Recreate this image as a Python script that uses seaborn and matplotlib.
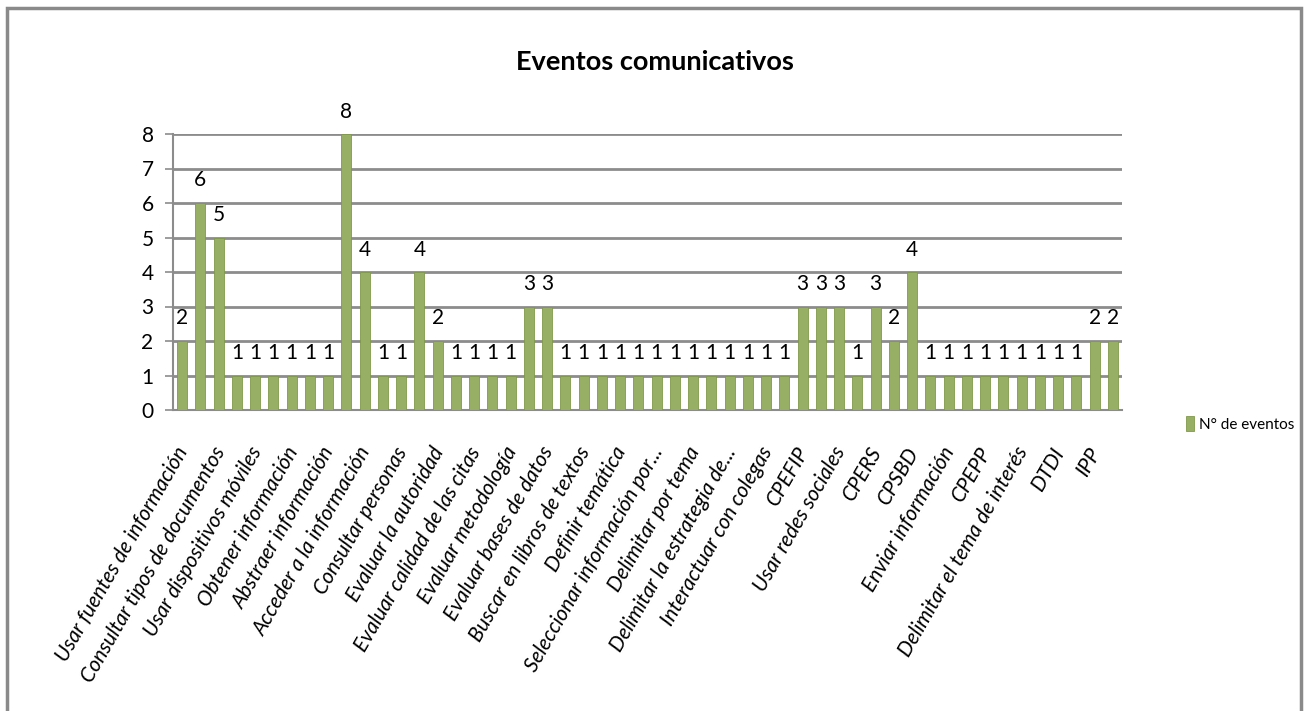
import matplotlib
matplotlib.use("Agg")
import matplotlib.pyplot as plt
from matplotlib.patches import Rectangle
from matplotlib.transforms import ScaledTranslation
import seaborn as sns
import pandas as pd

# Event counts per communicative activity (one value per bar)
values = [2, 6, 5, 1, 1, 1, 1, 1, 1, 8, 4, 1, 1, 4, 2, 1, 1, 1, 1, 3, 3,
          1, 1, 1, 1, 1, 1, 1, 1, 1, 1, 1, 1, 1,
          3, 3, 3, 1, 3, 2, 4,
          1, 1, 1, 1, 1, 1, 1, 1, 1, 2, 2]

# Labels shown on the axis (every second bar carries a name)
tick_labels = [
    "Usar fuentes de información", "Consultar tipos de documentos",
    "Usar dispositivos móviles", "Obtener información",
    "Abstraer información", "Acceder a la información",
    "Consultar personas", "Evaluar la autoridad",
    "Evaluar calidad de las citas", "Evaluar metodología",
    "Evaluar bases de datos", "Buscar en libros de textos",
    "Definir temática", "Seleccionar información por...",
    "Delimitar por tema", "Delimitar la estrategia de...",
    "Interactuar con colegas", "CPEFIP", "Usar redes sociales", "CPERS",
    "CPSBD", "Enviar información", "CPEPP",
    "Delimitar el tema de interés", "DTDI", "IPP",
]
series_name = "N° de eventos"
title = "Eventos comunicativos"
y_ticks = [0, 1, 2, 3, 4, 5, 6, 7, 8]

GREEN = "#9BBB59"
GRID = "#8c8c8c"
FONT = ["Lato", "DejaVu Sans"]

sns.set_theme(style="white")
plt.rcParams["font.family"] = FONT
plt.rcParams["text.color"] = "black"

W, H = 1308, 711
fig = plt.figure(figsize=(W / 100, H / 100), dpi=100)
fig.patch.set_facecolor("white")

# plot area in pixel coordinates
left, right, top, bottom = 173, 1122, 134, 410
ax = fig.add_axes([left / W, 1 - bottom / H, (right - left) / W, (bottom - top) / H])

df = pd.DataFrame({"pos": list(range(len(values))), "n": values,
                   "serie": [series_name] * len(values)})
sns.barplot(data=df, x="pos", y="n", hue="serie", palette=[GREEN],
            width=0.55, edgecolor="#7f9a49", linewidth=0.6,
            ax=ax, legend=True, zorder=3)

ax.set_xlim(-0.5, len(values) - 0.5)
ax.set_ylim(0, 8)
ax.set_yticks(y_ticks)
ax.set_yticklabels([str(v) for v in y_ticks], fontsize=15, color="black")
ax.yaxis.grid(True, color=GRID, linewidth=2, zorder=0)
ax.set_axisbelow(True)

ax.set_xticks(range(0, len(values), 2))
ax.set_xticklabels(tick_labels, rotation=60, ha="right", rotation_mode="anchor",
                   fontsize=15, style="italic", color="black")
ax.tick_params(axis="x", length=0, pad=24)
shift = ScaledTranslation(-7 / 100, 0, fig.dpi_scale_trans)
for lbl in ax.get_xticklabels():
    lbl.set_transform(lbl.get_transform() + shift)
ax.set_xticks([i + 0.5 for i in range(-1, len(values))], minor=True)
ax.tick_params(axis="x", which="minor", length=7, width=1.2, color=GRID, direction="out")
ax.tick_params(axis="y", length=6, width=1.2, color=GRID, direction="out", left=True, pad=8)
ax.set_xlabel("")
ax.set_ylabel("")

for s in ["top", "right"]:
    ax.spines[s].set_visible(False)
for s in ["left", "bottom"]:
    ax.spines[s].set_color(GRID)
    ax.spines[s].set_linewidth(1.5)

ax.bar_label(ax.containers[0], labels=[str(v) for v in values], padding=9,
             fontsize=15, color="black")

handles, labels = ax.get_legend_handles_labels()
ax.legend(handles, labels, loc="center left", bbox_to_anchor=(1186 / W, 1 - 424 / H),
          bbox_transform=fig.transFigure, frameon=False, fontsize=11,
          borderaxespad=0, borderpad=0,
          handlelength=0.55, handleheight=1.1, handletextpad=0.3)

fig.text(655 / W, 1 - 62 / H, title, ha="center", va="center",
         fontsize=19.5, fontweight="bold", color="black")

# chart frame
fig.add_artist(Rectangle((7 / W, -0.05), (1301 - 7) / W, 1.05 - 8 / H,
                         transform=fig.transFigure, fill=False,
                         edgecolor="#8a8a8a", linewidth=2.5))

fig.savefig("out.png", dpi=100)
